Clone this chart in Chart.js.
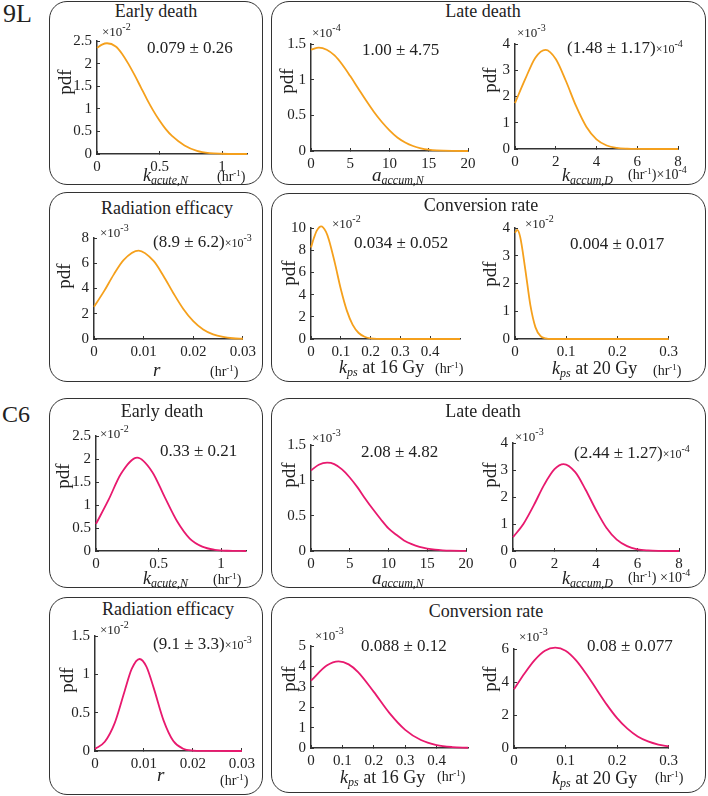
<!DOCTYPE html>
<html>
<head>
<meta charset="utf-8">
<script src="https://cdn.jsdelivr.net/npm/chart.js@4.4.0/dist/chart.umd.min.js"></script>
<style>
  body { margin: 0; background: #fff; width: 708px; height: 796px; position: relative; overflow: hidden;
         font-family: "Liberation Serif", "Times New Roman", serif; color: #222; }
  .box { position: absolute; border: 1.6px solid #333; border-radius: 18px; box-sizing: border-box; }
  .t { position: absolute; white-space: nowrap; line-height: 1; }
  .sb { font-size: 12px; position: relative; top: 3px; font-style: italic; }
  .sp { font-size: 10px; position: relative; top: -6px; }
  canvas { position: absolute; }
</style>
</head>
<body>
<div class="box" style="left:49px;top:1px;width:214px;height:184px"></div>
<div class="box" style="left:271px;top:1px;width:435px;height:184px"></div>
<div class="box" style="left:49px;top:192px;width:214px;height:190px"></div>
<div class="box" style="left:271px;top:193px;width:435px;height:189px"></div>
<div class="box" style="left:49px;top:398px;width:214px;height:190px"></div>
<div class="box" style="left:271px;top:398px;width:435px;height:190px"></div>
<div class="box" style="left:49px;top:597px;width:214px;height:198px"></div>
<div class="box" style="left:271px;top:597px;width:435px;height:196px"></div>
<script>
// pdf curves, y in the units printed on each axis (see the x10^n marks)
// 9L
const early9L_x = [0, 0.04, 0.08, 0.15, 0.2, 0.25, 0.3, 0.35, 0.4, 0.45, 0.5, 0.55, 0.6, 0.7, 0.8, 0.9, 1.0, 1.1, 1.2];
const early9L_y = [2.35, 2.42, 2.45, 2.38, 2.22, 2.0, 1.75, 1.48, 1.21, 0.96, 0.74, 0.55, 0.4, 0.19, 0.07, 0.02, 0.005, 0, 0];
const lateN9L_x = [0, 1, 2, 3, 4, 5, 6, 7, 8, 9, 10, 11, 12, 13, 14, 15, 16, 18, 20];
const lateN9L_y = [1.42, 1.45, 1.42, 1.34, 1.21, 1.05, 0.88, 0.71, 0.55, 0.41, 0.29, 0.19, 0.12, 0.07, 0.037, 0.018, 0.008, 0.001, 0];
const lateD9L_x = [0, 0.5, 1, 1.5, 2, 2.5, 3, 3.5, 4, 4.5, 5, 5.5, 6, 7, 8];
const lateD9L_y = [1.75, 2.66, 3.48, 3.78, 3.43, 2.59, 1.63, 0.85, 0.37, 0.135, 0.04, 0.01, 0.002, 0, 0];
const rad9L_x = [0, 0.002, 0.004, 0.006, 0.009, 0.012, 0.014, 0.016, 0.018, 0.02, 0.022, 0.024, 0.026, 0.028, 0.03];
const rad9L_y = [2.55, 3.77, 5.12, 6.27, 7.0, 6.18, 4.99, 3.63, 2.38, 1.41, 0.75, 0.36, 0.16, 0.06, 0.02];
const conv16_9L_x = [0, 0.01, 0.02, 0.034, 0.05, 0.06, 0.08, 0.1, 0.12, 0.14, 0.16, 0.18, 0.2, 0.25, 0.3, 0.4, 0.5];
const conv16_9L_y = [8.25, 9.12, 9.79, 10.15, 9.68, 8.95, 6.86, 4.5, 2.58, 1.27, 0.54, 0.2, 0.06, 0, 0, 0, 0];
const conv20_9L_x = [0, 0.004, 0.01, 0.02, 0.03, 0.04, 0.05, 0.06, 0.07, 0.1, 0.2, 0.3];
const conv20_9L_y = [3.83, 3.93, 3.69, 2.52, 1.22, 0.42, 0.1, 0.02, 0, 0, 0, 0];
// C6
const earlyC6_x = [0, 0.1, 0.2, 0.33, 0.45, 0.55, 0.65, 0.75, 0.85, 0.95, 1.05, 1.2];
const earlyC6_y = [0.59, 1.11, 1.68, 2.03, 1.72, 1.17, 0.64, 0.27, 0.095, 0.026, 0.005, 0];
const lateNC6_x = [0, 1, 2.08, 3, 4, 5, 6, 7, 8, 9, 10, 11, 12, 13, 14, 15, 16, 17, 18, 20];
const lateNC6_y = [1.14, 1.22, 1.25, 1.23, 1.155, 1.04, 0.9, 0.74, 0.59, 0.45, 0.32, 0.23, 0.15, 0.097, 0.059, 0.035, 0.019, 0.01, 0.005, 0.001];
const lateDC6_x = [0, 0.5, 1, 1.5, 2, 2.44, 3, 3.5, 4, 4.5, 5, 5.5, 6, 6.5, 7, 8];
const lateDC6_y = [0.51, 1.0, 1.69, 2.45, 3.03, 3.22, 2.92, 2.27, 1.52, 0.86, 0.42, 0.18, 0.063, 0.02, 0.005, 0];
const radC6_x = [0, 0.002, 0.004, 0.006, 0.0075, 0.0091, 0.0105, 0.012, 0.014, 0.016, 0.018, 0.02, 0.022, 0.03];
const radC6_y = [0.027, 0.12, 0.36, 0.77, 1.07, 1.2, 1.1, 0.82, 0.4, 0.13, 0.03, 0.005, 0.0005, 0];
const conv16C6_x = [0, 0.05, 0.088, 0.12, 0.15, 0.2, 0.25, 0.3, 0.35, 0.4, 0.45, 0.5];
const conv16C6_y = [3.3, 4.04, 4.25, 4.1, 3.72, 2.75, 1.71, 0.89, 0.39, 0.145, 0.045, 0.012];
const conv20C6_x = [0, 0.02, 0.04, 0.06, 0.08, 0.1, 0.12, 0.14, 0.16, 0.18, 0.2, 0.22, 0.24, 0.26, 0.28, 0.3];
const conv20C6_y = [3.56, 4.5, 5.33, 5.9, 6.08, 5.9, 5.33, 4.5, 3.56, 2.63, 1.81, 1.17, 0.7, 0.4, 0.21, 0.1];

const ORANGE = '#f5a01c';
const PINK = '#e8196e';

// area = [left, right, top, bottom] of the axes box on the page
const panels = [
  { xs: early9L_x, ys: early9L_y, c: ORANGE, area: [97, 247, 36, 154], xMax: 1.2, xStep: 0.5, xLast: 1, yMax: 2.5, yStep: 0.5 },
  { xs: lateN9L_x, ys: lateN9L_y, c: ORANGE, area: [311, 468, 39, 151], xMax: 20, xStep: 5, xLast: 20, yMax: 1.5, yStep: 0.5 },
  { xs: lateD9L_x, ys: lateD9L_y, c: ORANGE, area: [515, 678, 39, 149], xMax: 8, xStep: 2, xLast: 8, yMax: 4, yStep: 1 },
  { xs: rad9L_x, ys: rad9L_y, c: ORANGE, area: [94, 247, 233, 339], xMax: 0.03, xStep: 0.01, xLast: 0.03, yMax: 8, yStep: 2 },
  { xs: conv16_9L_x, ys: conv16_9L_y, c: ORANGE, area: [311, 460, 223, 339], xMax: 0.5, xStep: 0.1, xLast: 0.4, yMax: 10, yStep: 2 },
  { xs: conv20_9L_x, ys: conv20_9L_y, c: ORANGE, area: [515, 669, 223, 339], xMax: 0.3, xStep: 0.1, xLast: 0.3, yMax: 4, yStep: 1 },
  { xs: earlyC6_x, ys: earlyC6_y, c: PINK, area: [96, 246, 431, 551], xMax: 1.2, xStep: 0.5, xLast: 1, yMax: 2.5, yStep: 0.5 },
  { xs: lateNC6_x, ys: lateNC6_y, c: PINK, area: [311, 466, 440, 551], xMax: 20, xStep: 5, xLast: 20, yMax: 1.5, yStep: 0.5 },
  { xs: lateDC6_x, ys: lateDC6_y, c: PINK, area: [513, 679, 438, 551], xMax: 8, xStep: 2, xLast: 8, yMax: 4, yStep: 1 },
  { xs: radC6_x, ys: radC6_y, c: PINK, area: [95, 246, 631, 751], xMax: 0.03, xStep: 0.01, xLast: 0.03, yMax: 1.5, yStep: 0.5 },
  { xs: conv16C6_x, ys: conv16C6_y, c: PINK, area: [311, 468, 641, 748], xMax: 0.5, xStep: 0.1, xLast: 0.4, yMax: 5, yStep: 1 },
  { xs: conv20C6_x, ys: conv20C6_y, c: PINK, area: [514, 669, 644, 748], xMax: 0.3, xStep: 0.1, xLast: 0.3, yMax: 6, yStep: 2 },
];

Chart.defaults.font.family = '"Liberation Serif", "Times New Roman", serif';
Chart.defaults.color = '#222';

const PAD_L = 34, PAD_R = 16, PAD_T = 12, PAD_B = 24;
const AXIS = '#333';
// matlab style tick text: 1 not 1.0
const fmt = (v) => String(Number(v.toFixed(6)));

panels.forEach((p) => {
  const [l, r, t, b] = p.area;
  const cv = document.createElement('canvas');
  const w = r - l + PAD_L + PAD_R, h = b - t + PAD_T + PAD_B;
  cv.width = w; cv.height = h;
  cv.style.left = (l - PAD_L) + 'px';
  cv.style.top = (t - PAD_T) + 'px';
  document.body.appendChild(cv);

  new Chart(cv, {
    type: 'line',
    data: {
      datasets: [{
        data: p.xs.map((x, i) => ({ x: x, y: p.ys[i] })),
        borderColor: p.c,
        borderWidth: 1.8,
        pointRadius: 0,
        cubicInterpolationMode: 'monotone',
        fill: false,
        clip: false,
      }]
    },
    options: {
      responsive: false,
      animation: false,
      layout: { padding: { left: 0, right: PAD_R, top: PAD_T, bottom: 0 } },
      plugins: { legend: { display: false }, tooltip: { enabled: false } },
      scales: {
        x: {
          type: 'linear', min: 0, max: p.xMax,
          grid: { drawOnChartArea: false, drawTicks: true, tickLength: -3, color: AXIS },
          border: { color: AXIS, width: 1.5 },
          ticks: { stepSize: p.xStep, includeBounds: false, autoSkip: false, maxRotation: 0,
                   padding: 7, font: { size: 15 }, color: '#222', callback: fmt },
          afterBuildTicks: (s) => { s.ticks = s.ticks.filter((tk) => tk.value <= p.xLast + 1e-9); },
          afterFit: (s) => { s.height = PAD_B; },
        },
        y: {
          min: 0, max: p.yMax,
          grid: { drawOnChartArea: false, drawTicks: true, tickLength: -3, color: AXIS },
          border: { color: AXIS, width: 1.5 },
          ticks: { stepSize: p.yStep, autoSkip: false, padding: 8, font: { size: 15 }, color: '#222', callback: fmt },
          afterFit: (s) => { s.width = PAD_L; },
        }
      }
    }
  });
});

// text: html, x, baseline, size, anchor ('l' left, 'c' centre)
function put(html, x, base, size, anchor) {
  const d = document.createElement('div');
  d.className = 't';
  d.innerHTML = html;
  d.style.left = x + 'px';
  d.style.top = (base - 0.838 * size) + 'px';
  d.style.fontSize = size + 'px';
  if (anchor === 'c') d.style.transform = 'translateX(-50%)';
  document.body.appendChild(d);
}
function pdf(cx, cy) {
  const d = document.createElement('div');
  d.className = 't';
  d.textContent = 'pdf';
  d.style.fontSize = '19px';
  d.style.left = cx + 'px';
  d.style.top = cy + 'px';
  d.style.transform = 'translate(-50%,-50%) rotate(-90deg)';
  document.body.appendChild(d);
}

const exp = (n) => '×10<span class="sp">' + n + '</span>';
const hr = '(hr<span class="sp" style="font-size:9px;top:-5px">-1</span>)';
const kLab = (sub) => '<i>k</i><span class="sb">' + sub + '</span>';
const aLab = (sub) => '<i>a</i><span class="sb">' + sub + '</span>';

// row labels
put('9L', 3, 23, 26, 'l');
put('C6', 2, 422, 24, 'l');

// panel titles
put('Early death', 156, 17, 18, 'c');
put('Late death', 483, 17, 18, 'c');
put('Radiation efficacy', 167, 214, 18, 'c');
put('Conversion rate', 481, 211, 18, 'c');
put('Early death', 162, 417, 18, 'c');
put('Late death', 483, 417, 18, 'c');
put('Radiation efficacy', 168, 615, 18, 'c');
put('Conversion rate', 486, 617, 18, 'c');

// mean ± sd notes
const small = (n) => '<span style="font-size:12px">×10</span><span class="sp">' + n + '</span>';
put('0.079 ± 0.26', 147, 53, 17, 'l');
put('1.00 ± 4.75', 362, 55, 17, 'l');
put('(1.48 ± 1.17)' + small('-4'), 567, 53, 17, 'l');
put('(8.9 ± 6.2)' + small('-3'), 153, 247, 17, 'l');
put('0.034 ± 0.052', 354, 248, 17, 'l');
put('0.004 ± 0.017', 570, 249, 17, 'l');
put('0.33 ± 0.21', 160, 456, 17, 'l');
put('2.08 ± 4.82', 361, 457, 17, 'l');
put('(2.44 ± 1.27)' + small('-4'), 574, 458, 17, 'l');
put('(9.1 ± 3.3)' + small('-3'), 153, 649, 17, 'l');
put('0.088 ± 0.12', 361, 651, 17, 'l');
put('0.08 ± 0.077', 587, 651, 17, 'l');

// axis multipliers
put(exp('-2'), 102, 36, 13, 'l');
put(exp('-4'), 312, 37, 13, 'l');
put(exp('-3'), 517, 37, 13, 'l');
put(exp('-3'), 100, 237, 13, 'l');
put(exp('-2'), 332, 228, 13, 'l');
put(exp('-2'), 525, 228, 13, 'l');
put(exp('-2'), 100, 438, 13, 'l');
put(exp('-3'), 312, 442, 13, 'l');
put(exp('-3'), 515, 441, 13, 'l');
put(exp('-2'), 100, 634, 13, 'l');
put(exp('-3'), 315, 640, 13, 'l');
put(exp('-3'), 519, 641, 13, 'l');

// y labels
pdf(64, 82); pdf(286, 81); pdf(489, 80);
pdf(63, 276); pdf(288, 273); pdf(489, 274);
pdf(62, 476); pdf(288, 475); pdf(489, 475);
pdf(66, 680); pdf(288, 679); pdf(489, 679);

// x labels
put(kLab('acute,N'), 143, 181, 18, 'l');
put(hr, 217, 182, 14, 'l');
put(aLab('accum,N'), 372, 181, 19, 'l');
put(kLab('accum,D'), 562, 181, 18, 'l');
put(hr + '×10<span class="sp">-4</span>', 628, 180, 14, 'l');
put('<i>r</i>', 153, 376, 19, 'l');
put(hr, 210, 377, 14, 'l');
put(kLab('ps') + ' at 16 Gy', 339, 373, 18, 'l');
put(hr, 435, 374, 14, 'l');
put(kLab('ps') + ' at 20 Gy', 552, 374, 18, 'l');
put(hr, 653, 376, 14, 'l');

put(kLab('acute,N'), 143, 584, 18, 'l');
put(hr, 213, 585, 14, 'l');
put(aLab('accum,N'), 372, 584, 19, 'l');
put(kLab('accum,D'), 562, 584, 18, 'l');
put(hr + ' ×10<span class="sp">-4</span>', 628, 583, 14, 'l');
put('<i>r</i>', 157, 781, 19, 'l');
put(hr, 220, 786, 14, 'l');
put(kLab('ps') + ' at 16 Gy', 340, 783, 18, 'l');
put(hr, 437, 782, 14, 'l');
put(kLab('ps') + ' at 20 Gy', 552, 784, 18, 'l');
put(hr, 655, 783, 14, 'l');
</script>
</body>
</html>
